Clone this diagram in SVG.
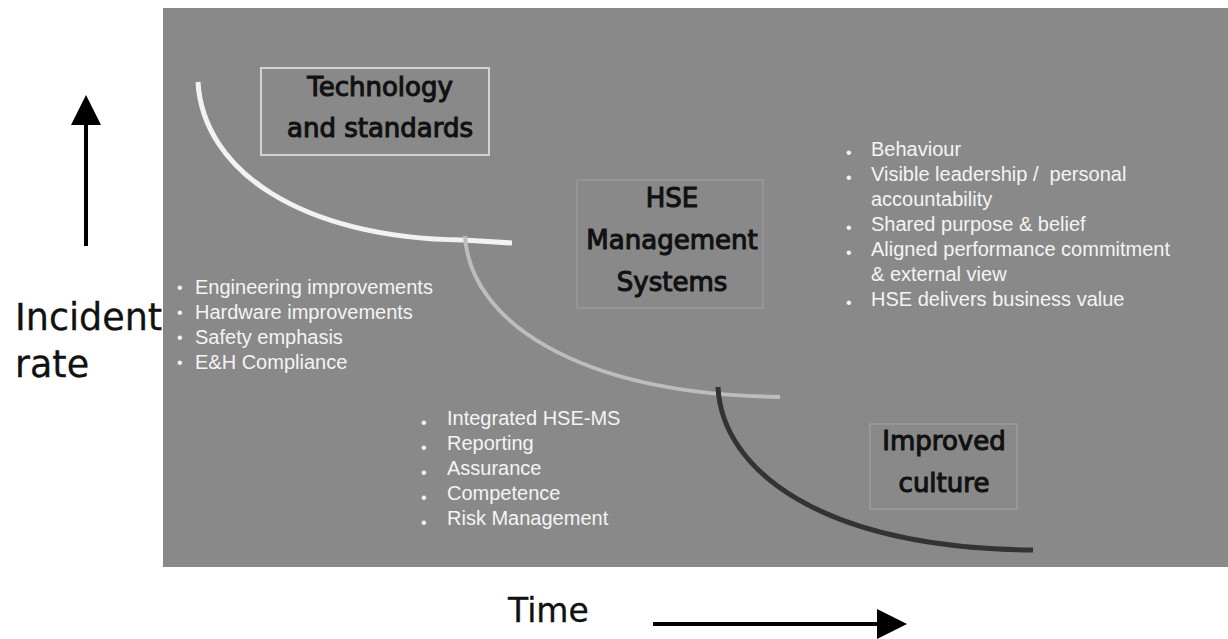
<svg xmlns="http://www.w3.org/2000/svg" width="1228" height="639" viewBox="0 0 1228 639">
  <defs>
    <style>
      .comic { font-family: "Comic Sans MS", "DejaVu Sans", sans-serif; fill: #111; stroke: #111; stroke-width: 1.1; text-anchor: middle; font-size: 26px; }
      .axis { font-family: "Comic Sans MS", "DejaVu Sans", sans-serif; fill: #111; stroke: #111; stroke-width: 0.3; }
      .list { font-family: "Liberation Sans", Arial, sans-serif; font-size: 20px; fill: #f4f4f4; white-space: pre; }
      .bul { font-family: "Liberation Sans", Arial, sans-serif; font-size: 16px; fill: #f4f4f4; }
      .box { fill: none; }
      .curve { fill: none; stroke-linecap: butt; }
      .arrow { stroke: #000; stroke-width: 4; fill: none; }
    </style>
    <marker id="ah" viewBox="0 0 30 32" refX="2" refY="16" markerWidth="30" markerHeight="32" markerUnits="userSpaceOnUse" orient="auto">
      <path d="M0,1 L30,16 L0,31 Z" fill="#000"/>
    </marker>
  </defs>

  <rect x="0" y="0" width="1228" height="639" fill="#ffffff"/>
  <rect id="panel" x="163" y="8" width="1065" height="559" fill="#898989"/>

  <g id="connectors">
    <path class="curve" d="M198,82 C203,170 300,238 463,240 L512,243" stroke="#f2f2f2" stroke-width="5"/>
    <path class="curve" d="M465,236 C470,320 575,394 780,397" stroke="#bdbdbd" stroke-width="4"/>
    <path class="curve" d="M718,387 C722,470 820,548 1033,550" stroke="#333333" stroke-width="5"/>
    <line class="arrow" x1="86" y1="246" x2="86" y2="123" marker-end="url(#ah)"/>
    <line class="arrow" x1="653" y1="624" x2="879" y2="624" marker-end="url(#ah)"/>
  </g>

  <g id="node-technology">
    <rect class="box" x="261" y="68" width="228" height="87" stroke="#d2d2d2" stroke-width="2"/>
    <text class="comic" x="380" y="96">Technology</text>
    <text class="comic" x="380" y="137">and standards</text>
  </g>

  <g id="node-hse">
    <rect class="box" x="577" y="180" width="186" height="128" stroke="#a2a2a2" stroke-width="1"/>
    <text class="comic" x="672" y="207">HSE</text>
    <text class="comic" x="672" y="249">Management</text>
    <text class="comic" x="672" y="291">Systems</text>
  </g>

  <g id="node-culture">
    <rect class="box" x="870" y="424" width="147" height="85" stroke="#a6a6a6" stroke-width="1"/>
    <text class="comic" x="944" y="450">Improved</text>
    <text class="comic" x="944" y="492">culture</text>
  </g>

  <g id="list-technology">
    <text class="bul" x="177" y="293">•</text>
    <text class="bul" x="177" y="318">•</text>
    <text class="bul" x="177" y="343">•</text>
    <text class="bul" x="177" y="368">•</text>
    <text class="list" x="195" y="294">Engineering improvements</text>
    <text class="list" x="195" y="319">Hardware improvements</text>
    <text class="list" x="195" y="344">Safety emphasis</text>
    <text class="list" x="195" y="369">E&amp;H Compliance</text>
  </g>

  <g id="list-hse">
    <text class="bul" x="421" y="428">•</text>
    <text class="bul" x="421" y="453">•</text>
    <text class="bul" x="421" y="478">•</text>
    <text class="bul" x="421" y="503">•</text>
    <text class="bul" x="421" y="528">•</text>
    <text class="list" x="447" y="425">Integrated HSE-MS</text>
    <text class="list" x="447" y="450">Reporting</text>
    <text class="list" x="447" y="475">Assurance</text>
    <text class="list" x="447" y="500">Competence</text>
    <text class="list" x="447" y="525">Risk Management</text>
  </g>

  <g id="list-culture">
    <text class="bul" x="846" y="158">•</text>
    <text class="bul" x="846" y="183">•</text>
    <text class="bul" x="846" y="233">•</text>
    <text class="bul" x="846" y="258">•</text>
    <text class="bul" x="846" y="308">•</text>
    <text class="list" x="871" y="156">Behaviour</text>
    <text class="list" x="871" y="181">Visible leadership /  personal</text>
    <text class="list" x="871" y="206">accountability</text>
    <text class="list" x="871" y="231">Shared purpose &amp; belief</text>
    <text class="list" x="871" y="256">Aligned performance commitment</text>
    <text class="list" x="871" y="281">&amp; external view</text>
    <text class="list" x="871" y="306">HSE delivers business value</text>
  </g>

  <g id="axis-labels">
    <text class="axis" x="15" y="330" font-size="36.5">Incident</text>
    <text class="axis" x="15" y="377" font-size="36.5">rate</text>
    <text class="axis" x="508" y="622" font-size="33">Time</text>
  </g>
</svg>
